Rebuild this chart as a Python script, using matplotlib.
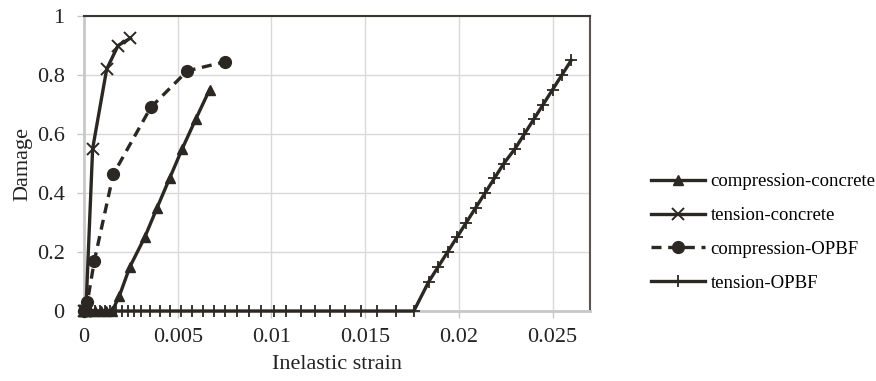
import numpy as np
import matplotlib
matplotlib.use("Agg")
import matplotlib.pyplot as plt

plt.rcParams['font.family'] = ['Liberation Serif', 'DejaVu Serif']

ink = '#2b2723'

# compression-concrete
cc_strain = [0, 0.0003, 0.0006, 0.0009, 0.0012, 0.0015, 0.00188, 0.00245, 0.00324,
             0.00390, 0.00457, 0.00524, 0.00596, 0.00670]
cc_damage = [0, 0, 0, 0, 0, 0, 0.05, 0.15, 0.25, 0.35, 0.45, 0.55, 0.65, 0.75]

# tension-concrete
tc_strain = [0, 0.00005, 0.0001, 0.00046, 0.00121, 0.00182, 0.00248]
tc_damage = [0, 0, 0, 0.55, 0.82, 0.9, 0.925]

# compression-OPBF
co_strain = [0, 0.00018, 0.00055, 0.00156, 0.00356, 0.00551, 0.00754]
co_damage = [0, 0.03, 0.17, 0.463, 0.69, 0.814, 0.845]

# tension-OPBF
to_strain = [0, 0.00016, 0.00037, 0.00059, 0.00085, 0.00112, 0.00138, 0.00170, 0.00202,
             0.00234, 0.00266, 0.00303, 0.00351, 0.00404, 0.00457, 0.00516, 0.00574,
             0.00633, 0.00691, 0.00755, 0.00814, 0.00883, 0.00947, 0.01016, 0.01080,
             0.01160, 0.01234, 0.01314, 0.01394, 0.01479, 0.01564, 0.01665, 0.01760,
             0.0184, 0.0189, 0.0194, 0.0199, 0.0204, 0.0209, 0.0214, 0.0219, 0.0224,
             0.0230, 0.0235, 0.0240, 0.0245, 0.0250, 0.0255, 0.0260]
to_damage = [0] * 33 + [0.1, 0.15, 0.2, 0.25, 0.3, 0.35, 0.4, 0.45, 0.5, 0.55, 0.6,
                        0.65, 0.7, 0.75, 0.8, 0.85]

xticks = [0, 0.005, 0.01, 0.015, 0.02, 0.025]
xtick_labels = ['0', '0.005', '0.01', '0.015', '0.02', '0.025']
yticks = [0, 0.2, 0.4, 0.6, 0.8, 1]
ytick_labels = ['0', '0.2', '0.4', '0.6', '0.8', '1']

fig = plt.figure(figsize=(8.76, 3.81), dpi=100)
ax = fig.add_axes([0.0959, 0.1837, 0.5776, 0.7743])

ax.plot(cc_strain, cc_damage, color=ink, lw=2.4, marker='^', ms=7.5,
        label='compression-concrete', zorder=3, clip_on=False)
ax.plot(tc_strain, tc_damage, color=ink, lw=2.4, marker='x', ms=9, mew=1.4,
        label='tension-concrete', zorder=3, clip_on=False)
ax.plot(co_strain, co_damage, color=ink, lw=2.4, ls=(0, (3, 2)), marker='o', ms=8.5,
        label='compression-OPBF', zorder=3, clip_on=False)
ax.plot(to_strain, to_damage, color=ink, lw=2.4, marker='+', ms=8, mew=1.3,
        label='tension-OPBF', zorder=3, clip_on=False)

ax.set_xlim(0, 0.027)
ax.set_ylim(0, 1)
ax.set_xticks(xticks)
ax.set_xticklabels(xtick_labels)
ax.set_yticks(yticks)
ax.set_yticklabels(ytick_labels)
ax.tick_params(labelsize=16, colors='#c8c8c8', labelcolor='#222222', length=5, width=1)
ax.tick_params(axis='x', pad=7)
ax.tick_params(axis='y', pad=9)
ax.grid(True, color='#d9d9d9', lw=1)
ax.set_axisbelow(True)

ax.spines['left'].set_color('#c8c8c8')
ax.spines['bottom'].set_color('#c8c8c8')
ax.spines['left'].set_linewidth(2)
ax.spines['bottom'].set_linewidth(2)
ax.spines['top'].set_color('#3a3632')
ax.spines['right'].set_color('#5a5550')
ax.spines['top'].set_linewidth(1.5)
ax.spines['right'].set_linewidth(1.5)

ax.set_xlabel('Inelastic strain', fontsize=16, color='#222222', labelpad=6)
ax.set_ylabel('Damage', fontsize=16, color='#222222', labelpad=3)

fig.legend(loc='center left', bbox_to_anchor=(0.7236, 0.39), frameon=False,
           fontsize=13.5, handlelength=2.9, labelspacing=0.89, handletextpad=0.3)

fig.savefig('out.png', dpi=100)
